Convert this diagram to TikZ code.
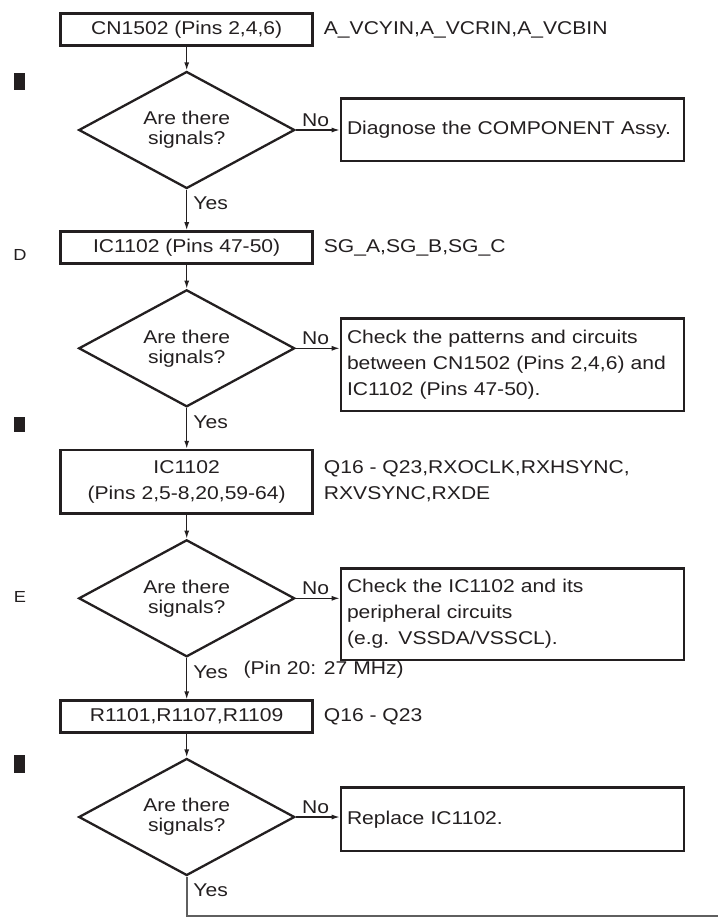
\documentclass[tikz,border=0pt]{standalone}
\usepackage{fontspec}
\setmainfont{Liberation Sans}[FakeStretch=1.14]
\usetikzlibrary{shapes.geometric,arrows.meta}
\definecolor{ink}{RGB}{35,31,32}
\definecolor{tailgray}{RGB}{95,95,95}
\begin{document}
\begin{tikzpicture}[x=1pt,y=-1pt,
  every node/.style={font=\fontsize{18.5}{26}\selectfont, text=ink},
  leftbox/.style={draw=ink, line width=2.6pt, rectangle, inner sep=0pt,
    minimum width=252pt, align=center},
  rightbox/.style={draw=ink, line width=2.6pt, rectangle, inner sep=0pt,
    minimum width=343pt, text width=331pt, align=left},
  decision/.style={draw=ink, line width=2.3pt, diamond, aspect=1.85, inner sep=0pt,
    minimum width=216pt, minimum height=117pt, align=center,
    font=\fontsize{18.5}{20}\selectfont},
  sidelabel/.style={anchor=west, inner sep=0pt, align=left},
  flowlabel/.style={inner sep=0pt},
  marker/.style={fill=ink, draw=none},
  link/.style={draw=ink, line width=1.3pt, -{Latex[length=8pt,width=5pt]}},
  tail/.style={draw=tailgray, line width=1.8pt}
]
\useasboundingbox (0,0) rectangle (718,919);

% left column
\node[leftbox, minimum height=32pt] (b1) at (186.7,29.6) {CN1502 (Pins 2,4,6)};
\node[decision] (d1) at (186.7,130) {Are there\\signals?};
\node[leftbox, minimum height=32pt] (b2) at (186.7,247.5) {IC1102 (Pins 47-50)};
\node[decision] (d2) at (186.7,348.3) {Are there\\signals?};
\node[leftbox, minimum height=63.3pt] (b3) at (186.7,481.7) {IC1102\\(Pins 2,5-8,20,59-64)};
\node[decision] (d3) at (186.7,598.3) {Are there\\signals?};
\node[leftbox, minimum height=32pt] (b4) at (186.7,716.7) {R1101,R1107,R1109};
\node[decision] (d4) at (186.7,817) {Are there\\signals?};

% right column
\node[rightbox, minimum height=62.7pt] (r1) at (512.5,129.7) {Diagnose the COMPONENT Assy.};
\node[rightbox, minimum height=92.7pt] (r2) at (512.5,364.7) {Check the patterns and circuits\\between CN1502 (Pins 2,4,6) and\\IC1102 (Pins 47-50).};
\node[rightbox, minimum height=91.7pt] (r3) at (512.5,614.2) {Check the IC1102 and its\\peripheral circuits\\(e.g. VSSDA/VSSCL).};
\node[rightbox, minimum height=63.3pt] (r4) at (512.5,819.3) {Replace IC1102.};

% side labels
\node[sidelabel] (s1) at ([xshift=9.7pt]b1.east) {A\_VCYIN,A\_VCRIN,A\_VCBIN};
\node[sidelabel] (s2) at ([xshift=9.7pt]b2.east) {SG\_A,SG\_B,SG\_C};
\node[sidelabel] (s3) at ([xshift=9.7pt]b3.east) {Q16 - Q23,RXOCLK,RXHSYNC,\\RXVSYNC,RXDE};
\node[sidelabel] (s4) at ([xshift=9.7pt]b4.east) {Q16 - Q23};

% connectors
\draw[link] (b1) -- (d1);
\draw[link] (d1) -- (b2);
\draw[link] (b2) -- (d2);
\draw[link] (d2) -- (b3);
\draw[link] (b3) -- (d3);
\draw[link] (d3) -- (b4);
\draw[link] (b4) -- (d4);
\draw[link] (d1.east) -- (d1.east -| r1.west);
\draw[link] (d2.east) -- (d2.east -| r2.west);
\draw[link] (d3.east) -- (d3.east -| r3.west);
\draw[link] (d4.east) -- (d4.east -| r4.west);
\coordinate (tailcorner) at (186.7,916);
\coordinate (tailend) at (718,916);
\draw[tail] (d4.south) -- (tailcorner) -- (tailend);

% No / Yes labels
\foreach \d in {d1,d2,d3,d4}{
  \node[flowlabel, anchor=south west] at ([xshift=6pt,yshift=3pt]\d.east) {No};
  \node[flowlabel, anchor=west] at ([xshift=6.5pt,yshift=-14pt]\d.south) {Yes};
}
\node[flowlabel, anchor=west] (pin) at (243.3,670) {(Pin 20: 27 MHz)};

% margin markers
\fill[marker] (14,73) rectangle (25,90);
\fill[marker] (14,416.7) rectangle (25,431.7);
\fill[marker] (14,755) rectangle (25,773.3);
\node[flowlabel, font=\fontsize{16}{18}\selectfont] (mD) at (20,255) {D};
\node[flowlabel, font=\fontsize{16}{18}\selectfont] (mE) at (20,596.7) {E};
\end{tikzpicture}
\end{document}
